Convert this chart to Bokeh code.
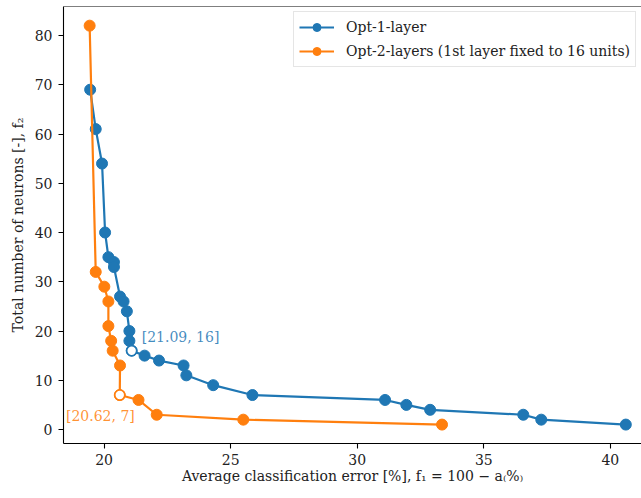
from bokeh.plotting import figure
from bokeh.models import Range1d, FixedTicker, Span, ColumnDataSource, Label
from bokeh.embed import file_html
from bokeh.resources import INLINE

# ---- data ----
opt1_err = [19.45, 19.67, 19.92, 20.04, 20.17, 20.39, 20.39, 20.63, 20.77, 20.90, 21.00, 21.00, 21.09,
            21.60, 22.17, 23.14, 23.25, 24.31, 25.86, 31.10, 31.94, 32.88, 36.56, 37.27, 40.61]
opt1_neur = [69, 61, 54, 40, 35, 34, 33, 27, 26, 24, 20, 18, 16, 15, 14, 13, 11, 9, 7, 6, 5, 4, 3, 2, 1]

opt2_err = [19.43, 19.67, 20.01, 20.17, 20.17, 20.28, 20.34, 20.63, 20.62, 21.36, 22.08, 25.50, 33.35]
opt2_neur = [82, 32, 29, 26, 21, 18, 16, 13, 7, 6, 3, 2, 1]

sel1_err = [21.09]
sel1_neur = [16]
sel2_err = [20.62]
sel2_neur = [7]

x_ticks = [20, 25, 30, 35, 40]
y_ticks = [0, 10, 20, 30, 40, 50, 60, 70, 80]

BLUE = "#1f77b4"
ORANGE = "#ff7f0e"
FONT = "DejaVu Serif"
FS = "14px"

p = figure(width=641, height=498, output_backend="svg", toolbar_location=None,
           x_range=Range1d(18.397, 41.23), y_range=Range1d(-2.84, 85.89),
           min_border_left=63, min_border_right=0, min_border_top=6, min_border_bottom=55)
p.outline_line_color = None
p.grid.visible = False
p.background_fill_color = "white"

for ax in (p.xaxis[0], p.yaxis[0]):
    ax.minor_tick_line_color = None
    ax.major_tick_in = 0
    ax.major_tick_out = 5
    ax.major_tick_line_color = "black"
    ax.axis_line_color = "black"
    ax.axis_line_width = 1.1
    ax.major_tick_line_width = 1.1
    ax.major_label_text_font = FONT
    ax.major_label_text_font_size = FS
    ax.major_label_text_color = "#222222"
    ax.axis_label_text_font = FONT
    ax.axis_label_text_font_size = FS
    ax.axis_label_text_font_style = "normal"
    ax.axis_label_text_color = "#222222"

p.xaxis.ticker = FixedTicker(ticks=x_ticks)
p.yaxis.ticker = FixedTicker(ticks=y_ticks)
p.xaxis.major_label_standoff = 5
p.yaxis.major_label_standoff = 6
p.xaxis.axis_label_standoff = 0
p.yaxis.axis_label_standoff = 6
p.xaxis.axis_label = "Average classification error [%], f\u2081 = 100 \u2212 a\u208d\u0025\u208e"
p.yaxis.axis_label = "Total number of neurons [-], f\u2082"

# top spine
p.add_layout(Span(location=p.y_range.end, dimension="width", line_color="black", line_width=1.2))

src1 = ColumnDataSource(dict(x=opt1_err, y=opt1_neur))
src2 = ColumnDataSource(dict(x=opt2_err, y=opt2_neur))

p.line("x", "y", source=src1, line_color=BLUE, line_width=2.2, legend_label="Opt-1-layer")
p.scatter("x", "y", source=src1, size=11, fill_color=BLUE, line_color=BLUE, legend_label="Opt-1-layer")
p.line("x", "y", source=src2, line_color=ORANGE, line_width=2.2,
       legend_label="Opt-2-layers (1st layer fixed to 16 units)")
p.scatter("x", "y", source=src2, size=11, fill_color=ORANGE, line_color=ORANGE,
          legend_label="Opt-2-layers (1st layer fixed to 16 units)")

p.scatter(sel1_err, sel1_neur, size=10, fill_color="white", line_color=BLUE, line_width=1.6)
p.scatter(sel2_err, sel2_neur, size=10, fill_color="white", line_color=ORANGE, line_width=1.6)

p.add_layout(Label(x=sel1_err[0], y=sel1_neur[0], text=f"[{sel1_err[0]}, {sel1_neur[0]}]",
                   x_offset=10, y_offset=6, text_font=FONT, text_font_size=FS,
                   text_color=BLUE, text_alpha=0.85, text_baseline="bottom", text_align="left"))
p.add_layout(Label(x=sel2_err[0], y=sel2_neur[0], text=f"[{sel2_err[0]}, {sel2_neur[0]}]",
                   x_offset=15, y_offset=-13, text_font=FONT, text_font_size=FS,
                   text_color=ORANGE, text_alpha=0.85, text_baseline="top", text_align="right"))

lg = p.legend[0]
lg.location = (230, 376)
lg.padding = 5
lg.spacing = 4
lg.glyph_width = 35
lg.glyph_height = 20
lg.label_height = 20
lg.label_standoff = 12
lg.label_text_font = FONT
lg.label_text_font_size = FS
lg.label_text_color = "#222222"
lg.border_line_color = "#cccccc"
lg.border_line_width = 1
lg.background_fill_alpha = 0.8

open("out.html", "w").write(file_html(p, INLINE))
